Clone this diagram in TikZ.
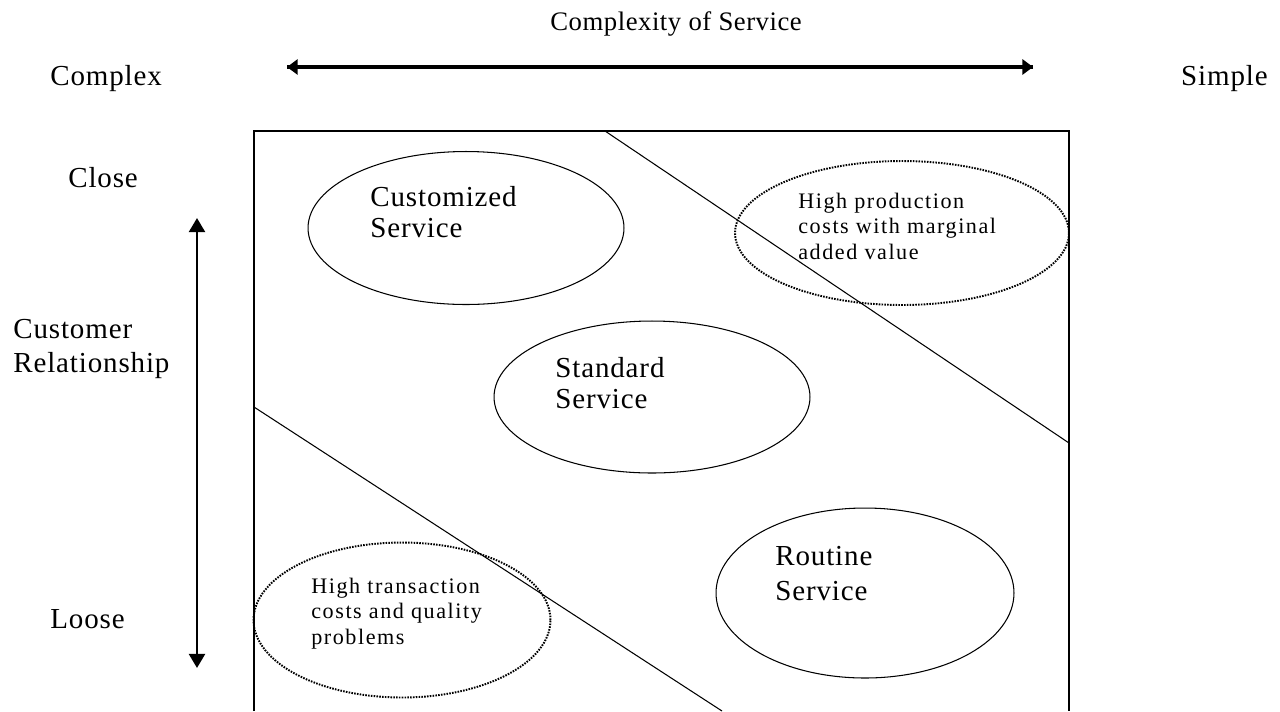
\documentclass[tikz,border=0pt]{standalone}
\usepackage{fontspec}
\setmainfont{Liberation Serif}
\usetikzlibrary{arrows.meta,shapes.geometric}

\begin{document}
\begin{tikzpicture}[x=0.02cm,y=-0.02cm,
  lbl/.style={anchor=base west,inner sep=0pt,align=left,
    font=\addfontfeature{LetterSpace=3}\fontsize{16.5}{17.3}\selectfont},
  small/.style={anchor=base west,inner sep=0pt,align=left,
    font=\addfontfeature{LetterSpace=7}\fontsize{12.6}{14.4}\selectfont},
  svc/.style={ellipse,draw,line width=0.6pt,inner sep=0pt},
  cost/.style={ellipse,draw,line width=1.1pt,dash pattern=on 0.9pt off 0.7pt,inner sep=0pt},
  axis/.style={line width=1.9pt,-{Triangle[length=6pt,width=8.5pt]}}]
\useasboundingbox (0,0) rectangle (1280,711);

% Osy
\node[lbl,font=\addfontfeature{LetterSpace=2}\fontsize{15.2}{17}\selectfont] (title) at (550,30) {Complexity of Service};
\node[lbl] (complexL) at (50,85) {Complex};
\node[lbl,anchor=base east] (simpleR) at (1268,85) {Simple};
\coordinate (cL) at (287,67);
\coordinate (cR) at (1033,67);
\draw[axis] (cL) -- (cR);
\draw[axis] (cR) -- (cL);

\node[lbl] (close) at (68,187) {Close};
\node[lbl,font=\addfontfeature{LetterSpace=3}\fontsize{16.5}{19.3}\selectfont] (custRel) at (13,372) {Customer\\Relationship};
\node[lbl] (loose) at (50,628) {Loose};
\coordinate (rTop) at (197,218);
\coordinate (rA) at (197,304);
\coordinate (rB) at (197,474);
\coordinate (rBot) at (197,668);
\draw[axis,line width=1.6pt,-{Triangle[length=8pt,width=9pt]}] (rA) -- (rTop);
\draw[line width=0.6pt] (rA) -- (rB);
\draw[axis,line width=1.6pt,-{Triangle[length=8pt,width=9pt]}] (rB) -- (rBot);

% Ramec a hranice
\draw[line width=0.8pt] (254,711) -- (254,131) -- (1069,131) -- (1069,711);
\draw[line width=0.6pt] (605,131) -- (1069,443);
\draw[line width=0.6pt] (254,407) -- (722,711);

% Sluzby
\node[svc,minimum width=6.32cm,minimum height=3.06cm] (cust) at (466,228) {};
\node[lbl] (custTxt) at (370,237) {Customized\\Service};
\node[svc,minimum width=6.32cm,minimum height=3.04cm] (std) at (652,397) {};
\node[lbl] (stdTxt) at (555,408) {Standard\\Service};
\node[svc,minimum width=5.96cm,minimum height=3.4cm] (rout) at (865,593) {};
\node[lbl,font=\addfontfeature{LetterSpace=3}\fontsize{16.5}{19.8}\selectfont] (routTxt) at (775,600) {Routine\\Service};

% Naklady
\node[cost,minimum width=6.68cm,minimum height=2.88cm] (prod) at (902,233) {};
\node[small] (prodTxt) at (798,259) {High production\\costs with marginal\\added value};
\node[cost,minimum width=5.94cm,minimum height=3.1cm] (trans) at (402,620) {};
\node[small] (transTxt) at (311,644) {High transaction\\costs and quality\\problems};
\end{tikzpicture}
\end{document}
